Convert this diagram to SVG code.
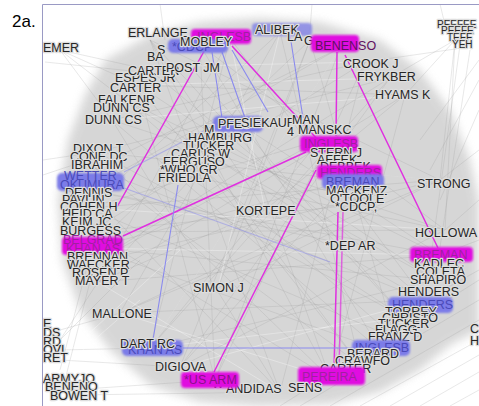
<svg xmlns="http://www.w3.org/2000/svg" width="479" height="406" viewBox="0 0 479 406">
<defs>
<filter id="soft" x="-10%" y="-10%" width="120%" height="120%"><feGaussianBlur stdDeviation="5"/></filter>
<filter id="glow" x="-20%" y="-50%" width="140%" height="200%"><feGaussianBlur stdDeviation="1.2"/></filter>
<style>
.l{font-family:"Liberation Sans",Arial,sans-serif;font-size:12.5px;fill:#262626;stroke:#dedede;stroke-width:2.4;stroke-linejoin:round;paint-order:stroke}
.s{font-size:10px}
.pm{fill:#e010e0;filter:url(#glow)}
.pb{fill:#7c7ce8;filter:url(#glow)}
.tm{font-family:"Liberation Sans",Arial,sans-serif;font-size:12.5px;fill:#a020a0}
.tb{font-family:"Liberation Sans",Arial,sans-serif;font-size:12.5px;fill:#4a4ab8}
.mesh{fill:none;stroke:#9a9a9a;stroke-width:0.5;opacity:0.45}
.wmesh{fill:none;stroke:#ffffff;stroke-width:0.8;opacity:0.4}
.em{fill:none;stroke:#e030e0;stroke-width:1.5}
.eb{fill:none;stroke:#8a8aee;stroke-width:1.1}
</style>
</defs>
<rect width="479" height="406" fill="#ffffff"/>
<text x="12" y="27" font-family="Liberation Sans,Arial,sans-serif" font-size="17" fill="#000">2a.</text>
<g id="background">
<path d="M105 60L150 35L200 22L260 18L320 22L380 40L420 70L450 110L470 160L479 200L479 330L450 345L420 370L380 392L330 404L260 406L200 402L150 385L110 350L80 310L62 260L58 200L68 140L85 95Z" fill="#d0d0d0" opacity="0.85" filter="url(#soft)"/>
</g>
<g id="edges">
<path class="mesh" d="M150 40L440 180M150 40L405 318M150 40L330 378M150 40L280 392M200 45L445 230M200 45L380 350M200 45L215 380M230 38L425 300M230 38L150 348M230 38L98 282M280 32L88 208M280 32L120 313M280 32L360 365M310 40L92 248M310 40L180 367M310 40L395 338M340 48L95 168M340 48L88 190M340 48L215 380M365 62L112 120M365 62L90 232M365 62L280 392M390 78L97 152M390 78L95 262M390 78L150 348M405 95L138 85M405 95L98 282M405 95L330 378M440 180L97 152M440 180L88 208M440 180L95 262M440 180L120 313M445 230L112 120M445 230L90 232M445 230L180 367M440 255L125 100M440 255L88 190M440 255L98 282M435 280L138 85M435 280L92 248M435 280L150 348M425 300L150 70M425 300L95 168M425 300L120 313M405 318L190 66M405 318L97 152M395 338L125 100M395 338L88 208M380 350L112 120M380 350L92 248M360 365L138 85M360 365L95 168M330 378L97 152M330 378L90 232M280 392L112 120M280 392L88 190M215 380L138 85M215 380L365 62M180 367L390 78M150 348L340 48M240 124L440 255M240 124L330 378M240 124L98 282M200 150L435 280M200 150L360 365M185 175L445 230M185 175L405 318M320 140L88 208M320 140L95 262M320 140L150 348M350 180L97 152M350 180L92 248M350 180L180 367M355 205L90 232M355 205L120 313M265 210L150 40M265 210L405 95M265 210L425 300M265 210L98 282M350 245L125 100M350 245L88 190M218 288L310 40M218 288L440 180"/>
<path class="mesh" d="M60 50L138 85M60 50L150 70M60 50L112 120M60 50L125 100M45 62L170 75M43 160L97 152M43 175L73 165M455 40L405 95M455 40L440 180M455 40L390 78M455 40L445 230M460 45L425 300M462 48L365 62M470 50L435 280M479 60L420 140M479 80L430 170M479 110L440 200M479 150L440 180M479 200L445 230M479 240L440 255M479 270L425 300M60 330L120 313M60 340L98 282M60 350L150 348M60 360L180 367M60 370L92 248M65 380L95 262M60 340L140 260M70 390L215 380M75 395L280 392M280 406L479 280M300 406L479 300M330 406L479 320M360 406L479 340M390 406L479 355M420 406L479 372M450 406L479 390M160 4L165 40M440 4L445 25M312 4L310 30"/>
<path class="wmesh" d="M120 313L330 378M98 282L280 392M150 348L405 318M180 367L425 300M92 248L440 255M88 208L445 230M97 152L440 180M112 120L405 95M138 85L390 78M190 66L365 62M230 38L265 210M280 32L218 288M340 48L150 348M60 360L180 250M60 370L140 300"/>
<path class="em" d="M207 46L117 207M232 46L318 140M123 236L306 152M316 170L214 372M337 52L336 136M345 55L438 248"/>
<path class="em" d="M343 212L339 370" opacity="0.7"/>
<path class="em" d="M338 212L334 370"/>
<path class="eb" d="M212 52L222 118M222 52L245 118M232 50L268 112M290 35L303 118M153 340L178 185M183 348L352 348"/>
<path class="eb" d="M124 188L330 262M124 172L215 125" opacity="0.5"/>
</g>
<g id="n-top">
<text class="l" x="128" y="37">ERLANGE</text>
<text class="l" x="43" y="52">EMER</text>
<text class="l" x="157" y="54">S</text>
<text class="l" x="147" y="61">BA</text>
<text class="l" x="115" y="82">ESPES JR</text>
<text class="l" x="128" y="75">CARTER</text>
<text class="l" x="166" y="72">POST JM</text>
<text class="l" x="110" y="92">CARTER</text>
<text class="l" x="98" y="104">FALKENR</text>
<text class="l" x="93" y="112">DUNN CS</text>
<text class="l" x="85" y="124">DUNN CS</text>
</g>
<g id="n-inglesb-top"><rect class="pm" x="191" y="29" width="60" height="15" rx="4"/><text class="tm" x="197" y="41">INGLESB</text></g>
<g id="n-cdcp-top"><rect class="pb" x="168" y="39" width="60" height="14" rx="5"/><text class="tb" x="172" y="51">*CDCP</text></g>
<g id="n-mobley"><text class="l" x="180" y="46">MOBLEY</text></g>
<g id="n-alibek"><rect class="pb" x="252" y="23" width="60" height="13" rx="4" opacity="0.75"/><text class="l" x="255" y="34">ALIBEK</text><text class="l" x="287" y="41">LA</text><text class="l" x="304" y="45">G</text></g>
<g id="n-benenso"><rect class="pm" x="311" y="35" width="48" height="17" rx="4"/><text class="tm" x="315" y="50" style="fill:#601060">BENENSO</text></g>
<g id="n-topright">
<text class="l" x="343" y="68">CROOK J</text>
<text class="l" x="357" y="81">FRYKBER</text>
<text class="l" x="375" y="99">HYAMS K</text>
<text class="l s" x="437" y="28">PEEFEE</text>
<text class="l s" x="441" y="34">PEEFE</text>
<text class="l s" x="447" y="41">TEFF</text>
<text class="l s" x="452" y="48">YEH</text>
</g>
<g id="n-left">
<text class="l" x="73" y="153">DIXON T</text>
<text class="l" x="70" y="161">CONE DC</text>
<text class="l" x="71" y="169">IBRAHIM</text>
<rect class="pb" x="57" y="173" width="67" height="18" rx="5"/>
<text class="tb" x="64" y="180">WETTER</text>
<text class="tb" x="60" y="189">OKUMURA</text>
<text class="l" x="65" y="197">DENNIS</text>
<text class="l" x="62" y="204">PAVLIN</text>
<text class="l" x="60" y="211">COHEN H</text>
<text class="l" x="62" y="218">HEID CA</text>
<text class="l" x="62" y="226">KEIM JC</text>
<text class="l" x="60" y="235">BURGESS</text>
<rect class="pm" x="62" y="237" width="61" height="18" rx="4"/>
<text class="tm" x="63" y="244">BELGRAD</text>
<text class="tm" x="66" y="253">KHAN AS</text>
<text class="l" x="67" y="261">BRENNAN</text>
<text class="l" x="67" y="269">WAECKER</text>
<text class="l" x="72" y="277">ROSEN P</text>
<text class="l" x="75" y="285">MAYER T</text>
</g>
<g id="n-mid-left">
<rect class="pb" x="213" y="116" width="50" height="16" rx="5"/>
<text class="l" x="204" y="134">M</text>
<text class="l" x="218" y="128">PFES</text>
<text class="l" x="241" y="127">SIEKAUF</text>
<text class="l" x="292" y="124">MAN</text>
<text class="l" x="188" y="142">HAMBURG</text>
<text class="l" x="183" y="150">TUCKER</text>
<text class="l" x="171" y="158">CARUS W</text>
<text class="l" x="163" y="166">FERGUSO</text>
<text class="l" x="160" y="174">*WHO GR</text>
<text class="l" x="158" y="182">FRIEDLA</text>
</g>
<g id="n-mid-right">
<text class="l" x="287" y="136">4</text>
<text class="l" x="298" y="134">MANSKC</text>
<rect class="pm" x="300" y="136" width="58" height="16" rx="4"/>
<text class="tm" x="304" y="148">INGLESB</text>
<text class="l" x="310" y="157">STERN J</text>
<text class="l" x="317" y="164">AFFEK</text>
<text class="l" x="320" y="171">DEBBEK</text>
<rect class="pm" x="317" y="165" width="65" height="14" rx="4"/>
<text class="tm" x="320" y="177">HENDERS</text>
<rect class="pb" x="322" y="174" width="62" height="15" rx="5"/>
<text class="tb" x="326" y="186">BREMAN</text>
<text class="l" x="326" y="195">MACKENZ</text>
<text class="l" x="330" y="203">O'TOOLE</text>
<text class="l" x="335" y="211">*CDCP,</text>
</g>
<g id="n-center">
<text class="l" x="417" y="188">STRONG</text>
<text class="l" x="236" y="215">KORTEPE</text>
<text class="l" x="325" y="250">*DEP AR</text>
<text class="l" x="193" y="292">SIMON J</text>
<text class="l" x="92" y="318">MALLONE</text>
</g>
<g id="n-right">
<text class="l" x="415" y="237">HOLLOWA</text>
<rect class="pm" x="410" y="247" width="63" height="15" rx="4"/>
<text class="tm" x="414" y="259">BREMAN</text>
<text class="l" x="414" y="268">KADLEC</text>
<text class="l" x="416" y="276">COLETA</text>
<text class="l" x="410" y="284">SHAPIRO</text>
<text class="l" x="398" y="296">HENDERS</text>
<rect class="pb" x="388" y="297" width="65" height="16" rx="5"/>
<text class="tb" x="392" y="309">HENDERS</text>
<text class="l" x="385" y="316">TORREY</text>
<text class="l" x="382" y="322">CHRISTO</text>
<text class="l" x="378" y="328">TUCKER</text>
<text class="l" x="375" y="334">FLAGG</text>
<text class="l" x="368" y="341">FRANZ D</text>
<rect class="pb" x="352" y="340" width="58" height="16" rx="5"/>
<text class="tb" x="355" y="352">INGLESB</text>
<text class="l" x="347" y="358">BERARD</text>
<text class="l" x="335" y="365">CRAWFO</text>
<text class="l" x="320" y="373">CARTER</text>
<text class="l" x="470" y="333">C</text>
<text class="l" x="470" y="345">H</text>
</g>
<g id="n-bottom">
<rect class="pm" x="298" y="367" width="67" height="18" rx="4"/>
<text class="tm" x="302" y="381">PEREIRA</text>
<text class="l" x="212" y="388">W</text>
<text class="l" x="226" y="393">ANDIDAS</text>
<text class="l" x="288" y="392">SENS</text>
<rect class="pm" x="181" y="372" width="58" height="16" rx="4"/>
<text class="tm" x="184" y="384" style="fill:#8a108a">*US ARM</text>
<text class="l" x="155" y="371">DIGIOVA</text>
<rect class="pb" x="122" y="340" width="61" height="16" rx="5"/>
<text class="tb" x="128" y="354">KHAN AS</text>
<text class="l" x="120" y="348">DART RC</text>
</g>
<g id="n-bottom-left">
<text class="l" x="43" y="328">E</text>
<text class="l" x="43" y="337">DS</text>
<text class="l" x="43" y="346">RD</text>
<text class="l" x="43" y="354">OVI</text>
<text class="l" x="43" y="362">RET</text>
<text class="l" x="43" y="383">ARMYJO</text>
<text class="l" x="45" y="391">BENENO</text>
<text class="l" x="50" y="400">BOWEN T</text>
</g>
<g id="frame"><path d="M42.5 406V4.5H479" fill="none" stroke="#9a9ac4" stroke-width="1"/></g>
</svg>
